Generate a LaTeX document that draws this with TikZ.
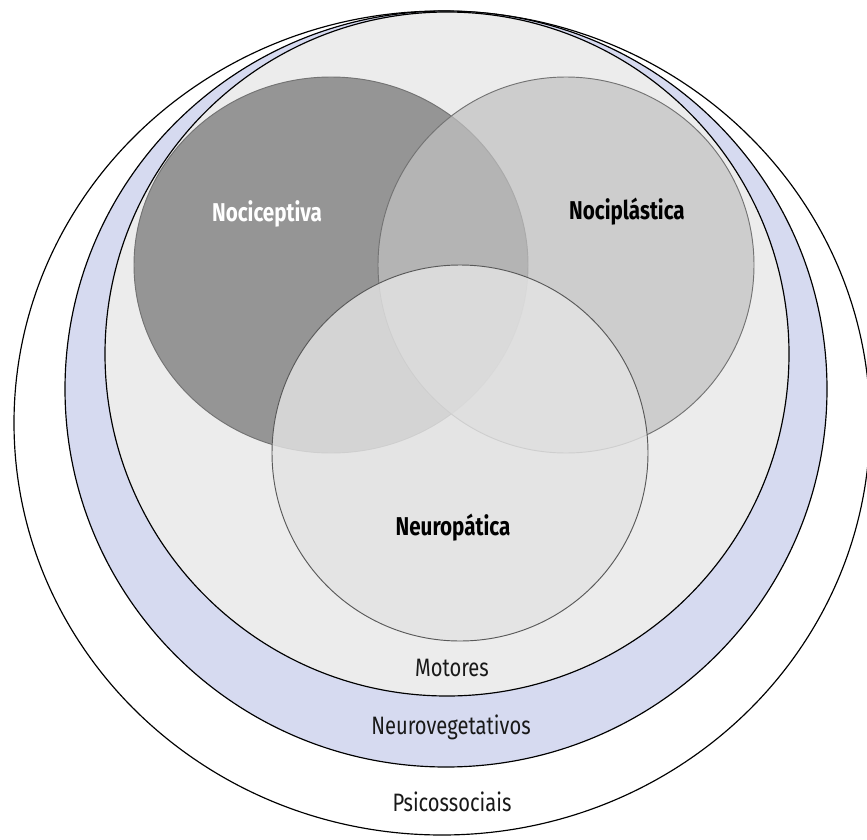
\documentclass[tikz,border=0pt]{standalone}
\usepackage{fontspec}
\usepackage{tikz}
\usetikzlibrary{positioning}
\newfontfamily\labfont[FakeStretch=0.8]{Fira Sans}
\definecolor{ringblue}{RGB}{214,218,240}
\definecolor{coregray}{RGB}{236,236,236}
\definecolor{nocigray}{RGB}{149,149,149}
\definecolor{plastgray}{RGB}{193,193,193}
\definecolor{neurogray}{RGB}{227,227,227}

\begin{document}
\begin{tikzpicture}[x=0.03cm, y=-0.03cm,% one unit = one pixel of the layout
ring/.style  = {draw=black, line width=1pt},
lobe/.style  = {draw=black!55, line width=0.8pt},
title/.style = {font=\labfont\bfseries\fontsize{22}{25}\selectfont},
level/.style = {font=\labfont\fontsize{21.5}{25}\selectfont, text=black!90}
                    ]
	\useasboundingbox (0,0) rectangle (867,839);

	% nested rings
	\coordinate (psico)  at (442,423);
	\coordinate (vege)   at (446,389);
	\coordinate (motor)  at (447,354);
	\draw[ring, fill=white]    (psico) ellipse [x radius=428, y radius=412];
	\draw[ring, fill=ringblue] (vege)  ellipse [x radius=381, y radius=378];
	\draw[ring, fill=coregray] (motor) ellipse [x radius=342, y radius=342];

	% the three pain types
	\coordinate (noci)  at (331,265);
	\coordinate (plast) at (566,265);
	\coordinate (neuro) at (460,453);
	\draw[lobe, fill=nocigray] (noci) ellipse [x radius=197, y radius=188];
	\draw[lobe, fill=plastgray, fill opacity=0.71] (plast) circle [radius=188];
	\draw[lobe, draw=black!65, fill=neurogray, fill opacity=0.82] (neuro) circle [radius=188];

	% labels
	\node[title, text=white] (nociL)  at (267,214) {Nociceptiva};
	\node[title]             (plastL) at (627,212) {Nociplástica};
	\node[title]             (neuroL) at (453,528) {Neuropática};
	\node[level] (motorL) at (452,668) {Motores};
	\node[level] (vegeL)  at (451,727) {Neurovegetativos};
	\node[level] (psicoL) at (452,802) {Psicossociais};
\end{tikzpicture}
\end{document}
